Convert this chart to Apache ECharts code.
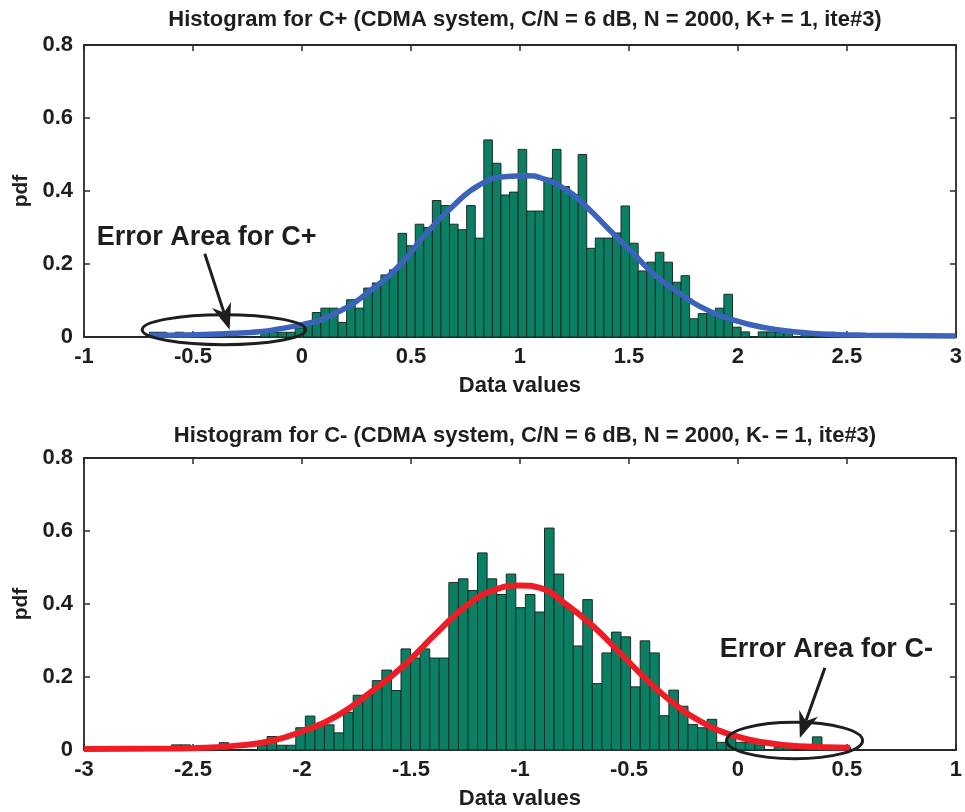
<!DOCTYPE html>
<html>
<head>
<meta charset="utf-8">
<script src="https://cdn.jsdelivr.net/npm/echarts/dist/echarts.min.js"></script>
<style>
  html, body { margin: 0; padding: 0; background: #ffffff; }
  #chart { width: 965px; height: 812px; }
</style>
</head>
<body>
<div id="chart"></div>
<script>
// ---- Text ----
const topTitle = 'Histogram for C+ (CDMA system, C/N = 6 dB, N = 2000, K+ = 1, ite#3)';
const bottomTitle = 'Histogram for C- (CDMA system, C/N = 6 dB, N = 2000, K- = 1, ite#3)';
const xAxisName = 'Data values';
const yAxisName = 'pdf';
const topNoteText = 'Error Area for C+';
const bottomNoteText = 'Error Area for C-';

// ---- Tick values and labels ----
const topXTicks = [-1, -0.5, 0, 0.5, 1, 1.5, 2, 2.5, 3];
const topXTickLabels = ['-1', '-0.5', '0', '0.5', '1', '1.5', '2', '2.5', '3'];
const bottomXTicks = [-3, -2.5, -2, -1.5, -1, -0.5, 0, 0.5, 1];
const bottomXTickLabels = ['-3', '-2.5', '-2', '-1.5', '-1', '-0.5', '0', '0.5', '1'];
const yTicks = [0, 0.2, 0.4, 0.6, 0.8];
const yTickLabels = ['0', '0.2', '0.4', '0.6', '0.8'];

// ---- C+ histogram: uniform bins starting at topBinStart ----
const topBinStart = -0.70;
const topBinWidth = 0.03934;
const topDensity = [
  0.013, 0.013, 0, 0.013, 0, 0, 0, 0, 0, 0,
  0, 0, 0, 0.013, 0.013, 0.013, 0.013, 0.025, 0.038, 0.067,
  0.079, 0.079, 0.040, 0.102, 0.079, 0.134, 0.148, 0.170, 0.184, 0.284,
  0.250, 0.309, 0.300, 0.374, 0.360, 0.309, 0.294, 0.360, 0.271, 0.540,
  0.476, 0.389, 0.397, 0.514, 0.345, 0.345, 0.435, 0.514, 0.412, 0.390,
  0.500, 0.243, 0.271, 0.271, 0.285, 0.359, 0.257, 0.181, 0.205, 0.232,
  0.205, 0.150, 0.168, 0.050, 0.064, 0.064, 0.079, 0.117, 0.027, 0.014,
  0, 0.014, 0.014, 0.013, 0.013, 0, 0.013, 0, 0, 0.013
];

// ---- C- histogram ----
const bottomBinStart = -2.599;
const bottomBinWidth = 0.04389;
const bottomDensity = [
  0.014, 0.014, 0, 0, 0, 0.020, 0, 0, 0, 0.012,
  0.037, 0.013, 0.013, 0.061, 0.093, 0.068, 0.069, 0.047, 0.103, 0.150,
  0.150, 0.190, 0.219, 0.163, 0.277, 0.252, 0.277, 0.252, 0.252, 0.459,
  0.469, 0.437, 0.540, 0.469, 0.426, 0.482, 0.390, 0.426, 0.378, 0.608,
  0.482, 0.390, 0.285, 0.412, 0.182, 0.266, 0.323, 0.310, 0.173, 0.299,
  0.266, 0.094, 0.164, 0.120, 0.070, 0.061, 0.084, 0.021, 0.035, 0.021,
  0.021, 0.014, 0, 0.008, 0.008, 0, 0.008, 0.036, 0, 0.008,
  0.008
];

// ---- Fitted Gaussian curves (sampled along the drawn curve) ----
const topFitX = [-0.70, -0.35, 0.0, 0.17, 0.32, 0.45, 0.57, 0.69, 0.815, 0.94, 1.03, 1.10, 1.213,
  1.305, 1.41, 1.518, 1.626, 1.733, 1.825, 1.978, 2.13, 2.283, 2.435, 2.59, 3.0];
const topFitY = [0.004, 0.009, 0.034, 0.070, 0.130, 0.198, 0.284, 0.357, 0.417, 0.440, 0.442, 0.435, 0.403,
  0.357, 0.294, 0.230, 0.166, 0.120, 0.084, 0.047, 0.025, 0.013, 0.007, 0.005, 0.003];
const bottomFitX = [-3.0, -2.6, -2.45, -2.30, -2.147, -1.994, -1.841, -1.688, -1.535, -1.382, -1.229, -1.107,
  -1.0, -0.908, -0.786, -0.664, -0.541, -0.419, -0.297, -0.174, -0.021, 0.131, 0.284, 0.515];
const bottomFitY = [0.003, 0.004, 0.006, 0.012, 0.024, 0.052, 0.093, 0.157, 0.230, 0.321, 0.403, 0.441,
  0.451, 0.444, 0.398, 0.339, 0.266, 0.193, 0.129, 0.079, 0.040, 0.020, 0.010, 0.006];

// ---- Styling ----
const FONT = "'Liberation Sans', Arial, Helvetica, sans-serif";
const INK = '#1e1e1e';
const AXIS = '#2a2a2a';
const BAR_FILL = '#0b7f64';
const BAR_EDGE = '#1b2d28';
const BLUE = '#3a63b9';
const RED = '#ee1d25';

// annotation placement, in data units of each panel
const topNote = {
  text: topNoteText, textAt: [-0.942, 0.273],
  center: [-0.358, 0.020], rx: 0.375, ry: 0.041,
  from: [-0.446, 0.228], to: [-0.332, 0.020]
};
const bottomNote = {
  text: bottomNoteText, textAt: [-0.083, 0.275],
  center: [0.260, 0.026], rx: 0.312, ry: 0.050,
  from: [0.399, 0.225], to: [0.284, 0.033]
};

function binRows(start, width, heights) {
  return heights.map((h, i) => [start + i * width, start + (i + 1) * width, h]);
}

function lookupLabel(ticks, labels) {
  return function (v) {
    for (let i = 0; i < ticks.length; i++) {
      if (Math.abs(ticks[i] - v) < 1e-6) return labels[i];
    }
    return '';
  };
}

function renderBin(params, api) {
  const topLeft = api.coord([api.value(0), api.value(2)]);
  const bottomRight = api.coord([api.value(1), 0]);
  return {
    type: 'rect',
    shape: {
      x: topLeft[0], y: topLeft[1],
      width: bottomRight[0] - topLeft[0],
      height: bottomRight[1] - topLeft[1]
    },
    style: { fill: BAR_FILL, stroke: BAR_EDGE, lineWidth: 1 }
  };
}

function noteRenderer(note) {
  return function (params, api) {
    const c = api.coord(note.center);
    const ex = api.coord([note.center[0] + note.rx, note.center[1]]);
    const ey = api.coord([note.center[0], note.center[1] + note.ry]);
    const rx = ex[0] - c[0];
    const ry = c[1] - ey[1];
    const a0 = api.coord(note.from);
    const a1 = api.coord(note.to);
    const dx = a1[0] - a0[0], dy = a1[1] - a0[1];
    const len = Math.hypot(dx, dy);
    const ux = dx / len, uy = dy / len;
    const headLen = 26, headHalf = 10, notch = 8;
    const base = [a1[0] - ux * headLen, a1[1] - uy * headLen];
    const left = [base[0] - uy * headHalf, base[1] + ux * headHalf];
    const right = [base[0] + uy * headHalf, base[1] - ux * headHalf];
    const inner = [base[0] + ux * notch, base[1] + uy * notch];
    const t = api.coord(note.textAt);
    return {
      type: 'group',
      children: [
        { type: 'ellipse', shape: { cx: c[0], cy: c[1], rx: rx, ry: ry },
          style: { fill: 'none', stroke: INK, lineWidth: 3 } },
        { type: 'line', shape: { x1: a0[0], y1: a0[1], x2: inner[0], y2: inner[1] },
          style: { stroke: INK, lineWidth: 3 } },
        { type: 'polygon', shape: { points: [a1, left, inner, right] },
          style: { fill: INK } },
        { type: 'text', x: t[0], y: t[1],
          style: { text: note.text, fill: INK, fontFamily: FONT, fontWeight: 'bold', fontSize: 27,
                   align: 'left', verticalAlign: 'middle' } }
      ]
    };
  };
}

const tickStyle = { inside: true, length: 6, lineStyle: { color: AXIS, width: 1.5 } };
const lineStyleAxis = { show: true, onZero: false, lineStyle: { color: AXIS, width: 1.8 } };
const labelStyle = { color: INK, fontFamily: FONT, fontWeight: 'bold', fontSize: 22 };

function xAxes(gridIndex, min, max, ticks, labels) {
  return [
    {
      type: 'value', gridIndex: gridIndex, min: min, max: max, interval: 0.5, position: 'bottom',
      axisLine: lineStyleAxis, axisTick: tickStyle, splitLine: { show: false },
      axisLabel: Object.assign({ margin: 9, formatter: lookupLabel(ticks, labels) }, labelStyle),
      name: xAxisName, nameLocation: 'middle', nameGap: 38,
      nameTextStyle: { color: INK, fontFamily: FONT, fontWeight: 'bold', fontSize: 22 }
    },
    {
      type: 'value', gridIndex: gridIndex, min: min, max: max, interval: 0.5, position: 'top',
      axisLine: lineStyleAxis, axisTick: tickStyle, splitLine: { show: false },
      axisLabel: { show: false }
    }
  ];
}

function yAxes(gridIndex) {
  return [
    {
      type: 'value', gridIndex: gridIndex, min: 0, max: 0.8, interval: 0.2, position: 'left',
      axisLine: lineStyleAxis, axisTick: tickStyle, splitLine: { show: false },
      axisLabel: Object.assign({ margin: 11, formatter: lookupLabel(yTicks, yTickLabels) }, labelStyle),
      name: yAxisName, nameLocation: 'middle', nameGap: 50, nameRotate: 90,
      nameTextStyle: { color: INK, fontFamily: FONT, fontWeight: 'bold', fontSize: 21 }
    },
    {
      type: 'value', gridIndex: gridIndex, min: 0, max: 0.8, interval: 0.2, position: 'right',
      axisLine: lineStyleAxis, axisTick: tickStyle, splitLine: { show: false },
      axisLabel: { show: false }
    }
  ];
}

const chart = echarts.init(document.getElementById('chart'), null, { renderer: 'canvas' });

chart.setOption({
  backgroundColor: '#ffffff',
  animation: false,
  title: [
    { text: topTitle, left: 520, top: 4, textAlign: 'center',
      textStyle: { color: INK, fontFamily: FONT, fontWeight: 'bold', fontSize: 22 } },
    { text: bottomTitle, left: 520, top: 420, textAlign: 'center',
      textStyle: { color: INK, fontFamily: FONT, fontWeight: 'bold', fontSize: 22 } }
  ],
  grid: [
    { left: 84, top: 45, width: 872, height: 292, containLabel: false },
    { left: 84, top: 458, width: 872, height: 292, containLabel: false }
  ],
  xAxis: xAxes(0, -1, 3, topXTicks, topXTickLabels).concat(xAxes(1, -3, 1, bottomXTicks, bottomXTickLabels)),
  yAxis: yAxes(0).concat(yAxes(1)),
  series: [
    {
      type: 'custom', name: 'C+ histogram', xAxisIndex: 0, yAxisIndex: 0,
      renderItem: renderBin, encode: { x: [0, 1], y: 2 },
      data: binRows(topBinStart, topBinWidth, topDensity), z: 2, silent: true
    },
    {
      type: 'line', name: 'C+ fit', xAxisIndex: 0, yAxisIndex: 0,
      data: topFitX.map((x, i) => [x, topFitY[i]]),
      showSymbol: false, smooth: 0.5,
      lineStyle: { color: BLUE, width: 5.5 }, z: 3, silent: true
    },
    {
      type: 'custom', name: 'C+ note', xAxisIndex: 0, yAxisIndex: 0,
      renderItem: noteRenderer(topNote), data: [topNote.center], clip: false, z: 5, silent: true
    },
    {
      type: 'custom', name: 'C- histogram', xAxisIndex: 2, yAxisIndex: 2,
      renderItem: renderBin, encode: { x: [0, 1], y: 2 },
      data: binRows(bottomBinStart, bottomBinWidth, bottomDensity), z: 2, silent: true
    },
    {
      type: 'line', name: 'C- fit', xAxisIndex: 2, yAxisIndex: 2,
      data: bottomFitX.map((x, i) => [x, bottomFitY[i]]),
      showSymbol: false, smooth: 0.5,
      lineStyle: { color: RED, width: 6 }, z: 3, silent: true
    },
    {
      type: 'custom', name: 'C- note', xAxisIndex: 2, yAxisIndex: 2,
      renderItem: noteRenderer(bottomNote), data: [bottomNote.center], clip: false, z: 5, silent: true
    }
  ]
});
</script>
</body>
</html>
